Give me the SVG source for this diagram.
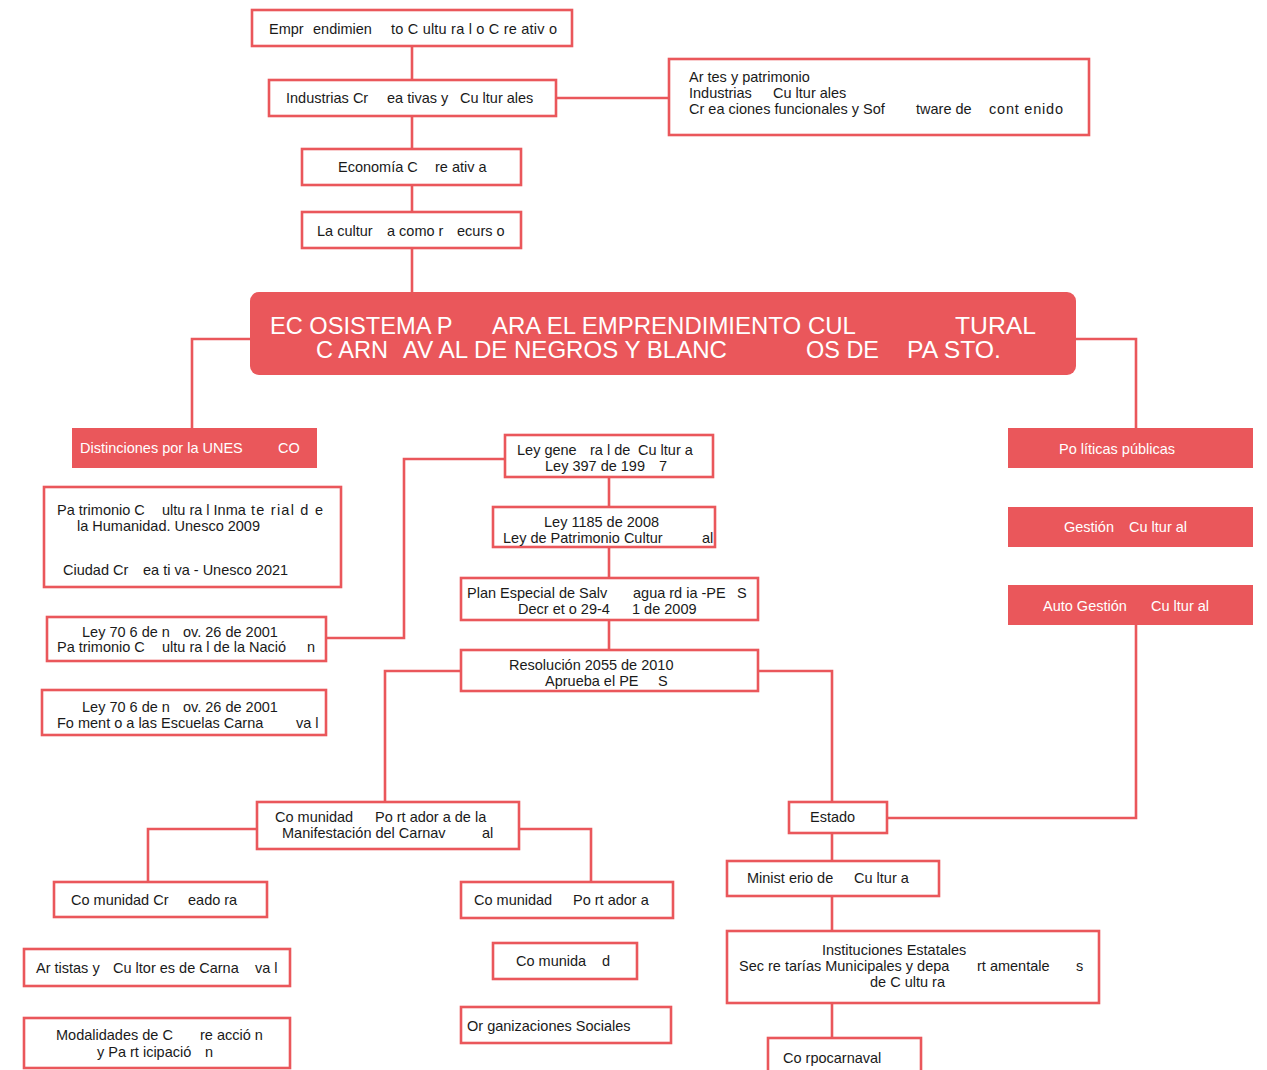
<svg xmlns="http://www.w3.org/2000/svg" width="1267" height="1070" viewBox="0 0 1267 1070">
  <style>
    .box { fill: #ffffff; stroke: #ea575b; stroke-width: 2.6; }
    .solid { fill: #ea575b; stroke: none; }
    .wire { fill: none; stroke: #ea575b; stroke-width: 2.6; stroke-linejoin: miter; }
    .t { font-family: "Liberation Sans", Arial, sans-serif; font-size: 14.5px; fill: #1a1a1a; }
    .w { font-family: "Liberation Sans", Arial, sans-serif; font-size: 14.5px; fill: #ffffff; }
    .head { font-family: "Liberation Sans", Arial, sans-serif; font-size: 24px; fill: #ffffff; }
  </style>
  <rect width="1267" height="1070" fill="#ffffff"/>

  <!-- connectors -->
  <g id="connectors">
    <path class="wire" d="M412 46V80M412 116V149M412 185V212M412 248V292"/>
    <path class="wire" d="M556 98H669"/>
    <path class="wire" d="M250 339H192V428"/>
    <path class="wire" d="M1076 339H1136V428"/>
    <path class="wire" d="M1136 624V818H887"/>
    <path class="wire" d="M326 638H404V459H505"/>
    <path class="wire" d="M609 477V507M609 547V578M609 620V650"/>
    <path class="wire" d="M461 671H385V802"/>
    <path class="wire" d="M758 671H832V802"/>
    <path class="wire" d="M257 829H148V882"/>
    <path class="wire" d="M519 829H591V882"/>
    <path class="wire" d="M832 833V861M832 896V931M832 1003V1038"/>
  </g>

  <!-- top chain -->
  <g id="emprendimiento">
    <rect class="box" x="252" y="10" width="320" height="36"/>
    <text class="t" y="34"><tspan x="269">Empr</tspan><tspan x="313">endimien</tspan><tspan x="391" textLength="166">to C ultu ra l o C re ativ o</tspan></text>
  </g>
  <g id="industrias">
    <rect class="box" x="269" y="80" width="287" height="36"/>
    <text class="t" y="103"><tspan x="286">Industrias Cr</tspan><tspan x="387">ea tivas y</tspan><tspan x="460">Cu ltur ales</tspan></text>
  </g>
  <g id="sectores">
    <rect class="box" x="669" y="59" width="420" height="76"/>
    <text class="t" x="689" y="82">Ar tes y patrimonio</text>
    <text class="t" y="98"><tspan x="689">Industrias</tspan><tspan x="773">Cu ltur ales</tspan></text>
    <text class="t" y="114"><tspan x="689">Cr ea ciones funcionales y Sof</tspan><tspan x="916">tware de</tspan><tspan x="989" textLength="74">cont  enido</tspan></text>
  </g>
  <g id="economia">
    <rect class="box" x="302" y="149" width="219" height="36"/>
    <text class="t" y="172"><tspan x="338">Economía C</tspan><tspan x="435">re ativ a</tspan></text>
  </g>
  <g id="recurso">
    <rect class="box" x="302" y="212" width="219" height="36"/>
    <text class="t" y="236"><tspan x="317">La cultur</tspan><tspan x="387">a como r</tspan><tspan x="457">ecurs  o</tspan></text>
  </g>

  <!-- central title -->
  <g id="ecosistema">
    <rect class="solid" x="250" y="292" width="826" height="83" rx="9"/>
    <text class="head" y="334">
      <tspan x="270" textLength="182" lengthAdjust="spacingAndGlyphs">EC OSISTEMA P</tspan>
      <tspan x="492" textLength="363" lengthAdjust="spacingAndGlyphs">ARA EL EMPRENDIMIENTO CUL</tspan>
      <tspan x="955" textLength="81" lengthAdjust="spacingAndGlyphs">TURAL</tspan>
    </text>
    <text class="head" y="358">
      <tspan x="316" textLength="72" lengthAdjust="spacingAndGlyphs">C ARN</tspan>
      <tspan x="403" textLength="324" lengthAdjust="spacingAndGlyphs">AV AL DE NEGROS Y BLANC</tspan>
      <tspan x="806" textLength="73" lengthAdjust="spacingAndGlyphs">OS DE</tspan>
      <tspan x="907" textLength="94" lengthAdjust="spacingAndGlyphs">PA STO.</tspan>
    </text>
  </g>

  <!-- UNESCO branch -->
  <g id="distinciones">
    <rect class="solid" x="72" y="428" width="245" height="40"/>
    <text class="w" y="453"><tspan x="80">Distinciones por la UNES</tspan><tspan x="278">CO</tspan></text>
  </g>
  <g id="patrimonio-humanidad">
    <rect class="box" x="44" y="487" width="297" height="100"/>
    <text class="t" y="515"><tspan x="57">Pa trimonio C</tspan><tspan x="162">ultu  ra l Inma</tspan><tspan x="251" textLength="72">te rial d  e</tspan></text>
    <text class="t" x="77" y="531">la Humanidad. Unesco 2009</text>
    <text class="t" y="575"><tspan x="63">Ciudad Cr</tspan><tspan x="143">ea ti va  - Unesco 2021</tspan></text>
  </g>
  <g id="ley-nacion">
    <rect class="box" x="47" y="617" width="279" height="44"/>
    <text class="t" y="637"><tspan x="82">Ley  70 6 de n</tspan><tspan x="183">ov. 26 de 2001</tspan></text>
    <text class="t" y="652"><tspan x="57">Pa trimonio C</tspan><tspan x="162">ultu  ra l de la Nació</tspan><tspan x="307">n</tspan></text>
  </g>
  <g id="ley-escuelas">
    <rect class="box" x="42" y="690" width="284" height="45"/>
    <text class="t" y="712"><tspan x="82">Ley  70 6 de n</tspan><tspan x="183">ov. 26 de 2001</tspan></text>
    <text class="t" y="728"><tspan x="57">Fo ment  o a las Escuelas Carna</tspan><tspan x="296">va l</tspan></text>
  </g>

  <!-- legal chain -->
  <g id="ley-general">
    <rect class="box" x="505" y="435" width="208" height="42"/>
    <text class="t" y="455"><tspan x="517">Ley gene</tspan><tspan x="590">ra l de</tspan><tspan x="638">Cu ltur a</tspan></text>
    <text class="t" y="471"><tspan x="545">Ley 397 de 199</tspan><tspan x="659">7</tspan></text>
  </g>
  <g id="ley-1185">
    <rect class="box" x="493" y="507" width="222" height="40"/>
    <text class="t" x="544" y="527">Ley 1185 de 2008</text>
    <text class="t" y="543"><tspan x="503">Ley de Patrimonio Cultur</tspan><tspan x="702">al</tspan></text>
  </g>
  <g id="pes">
    <rect class="box" x="461" y="578" width="297" height="42"/>
    <text class="t" y="598"><tspan x="467">Plan Especial de Salv</tspan><tspan x="633">agua  rd ia -PE</tspan><tspan x="737">S</tspan></text>
    <text class="t" y="614"><tspan x="518">Decr  et o 29-4</tspan><tspan x="632">1 de 2009</tspan></text>
  </g>
  <g id="resolucion">
    <rect class="box" x="461" y="650" width="297" height="41"/>
    <text class="t" x="509" y="670">Resolución 2055 de 2010</text>
    <text class="t" y="686"><tspan x="545">Aprueba el PE</tspan><tspan x="658">S</tspan></text>
  </g>

  <!-- public policy column -->
  <g id="politicas">
    <rect class="solid" x="1008" y="428" width="245" height="40"/>
    <text class="w" x="1059" y="454">Po líticas públicas</text>
  </g>
  <g id="gestion">
    <rect class="solid" x="1008" y="507" width="245" height="40"/>
    <text class="w" y="532"><tspan x="1064">Gestión</tspan><tspan x="1129">Cu ltur al</tspan></text>
  </g>
  <g id="autogestion">
    <rect class="solid" x="1008" y="585" width="245" height="40"/>
    <text class="w" y="611"><tspan x="1043">Auto Gestión</tspan><tspan x="1151">Cu ltur al</tspan></text>
  </g>

  <!-- community branch -->
  <g id="comunidad-manifestacion">
    <rect class="box" x="257" y="802" width="262" height="47"/>
    <text class="t" y="822"><tspan x="275">Co munidad</tspan><tspan x="375">Po rt ador  a de la</tspan></text>
    <text class="t" y="838"><tspan x="282">Manifestación del Carnav</tspan><tspan x="482">al</tspan></text>
  </g>
  <g id="comunidad-creadora">
    <rect class="box" x="54" y="882" width="213" height="35"/>
    <text class="t" y="905"><tspan x="71">Co munidad Cr</tspan><tspan x="188">eado ra</tspan></text>
  </g>
  <g id="artistas">
    <rect class="box" x="24" y="949" width="266" height="37"/>
    <text class="t" y="973"><tspan x="36">Ar tistas y</tspan><tspan x="113">Cu ltor es de Carna</tspan><tspan x="255">va l</tspan></text>
  </g>
  <g id="modalidades">
    <rect class="box" x="24" y="1018" width="266" height="50"/>
    <text class="t" y="1040"><tspan x="56">Modalidades de C</tspan><tspan x="200">re acció  n</tspan></text>
    <text class="t" y="1057"><tspan x="97">y Pa rt icipació</tspan><tspan x="205">n</tspan></text>
  </g>
  <g id="comunidad-portadora">
    <rect class="box" x="461" y="882" width="212" height="36"/>
    <text class="t" y="905"><tspan x="474">Co munidad</tspan><tspan x="573">Po rt ador  a</tspan></text>
  </g>
  <g id="comunidad">
    <rect class="box" x="493" y="943" width="144" height="36"/>
    <text class="t" y="966"><tspan x="516">Co munida</tspan><tspan x="602">d</tspan></text>
  </g>
  <g id="organizaciones">
    <rect class="box" x="461" y="1007" width="210" height="36"/>
    <text class="t" x="467" y="1031">Or ganizaciones Sociales</text>
  </g>

  <!-- state branch -->
  <g id="estado">
    <rect class="box" x="789" y="802" width="98" height="31"/>
    <text class="t" x="810" y="822">Estado</text>
  </g>
  <g id="ministerio">
    <rect class="box" x="727" y="861" width="212" height="35"/>
    <text class="t" y="883"><tspan x="747">Minist  erio de</tspan><tspan x="854">Cu ltur a</tspan></text>
  </g>
  <g id="instituciones">
    <rect class="box" x="727" y="931" width="372" height="72"/>
    <text class="t" x="822" y="955">Instituciones Estatales</text>
    <text class="t" y="971"><tspan x="739">Sec  re tarías Municipales y depa</tspan><tspan x="977">rt amentale</tspan><tspan x="1076">s</tspan></text>
    <text class="t" x="870" y="987">de C  ultu  ra</text>
  </g>
  <g id="corpocarnaval">
    <rect class="box" x="768" y="1038" width="153" height="40"/>
    <text class="t" x="783" y="1063">Co rpocarnaval</text>
  </g>
</svg>
